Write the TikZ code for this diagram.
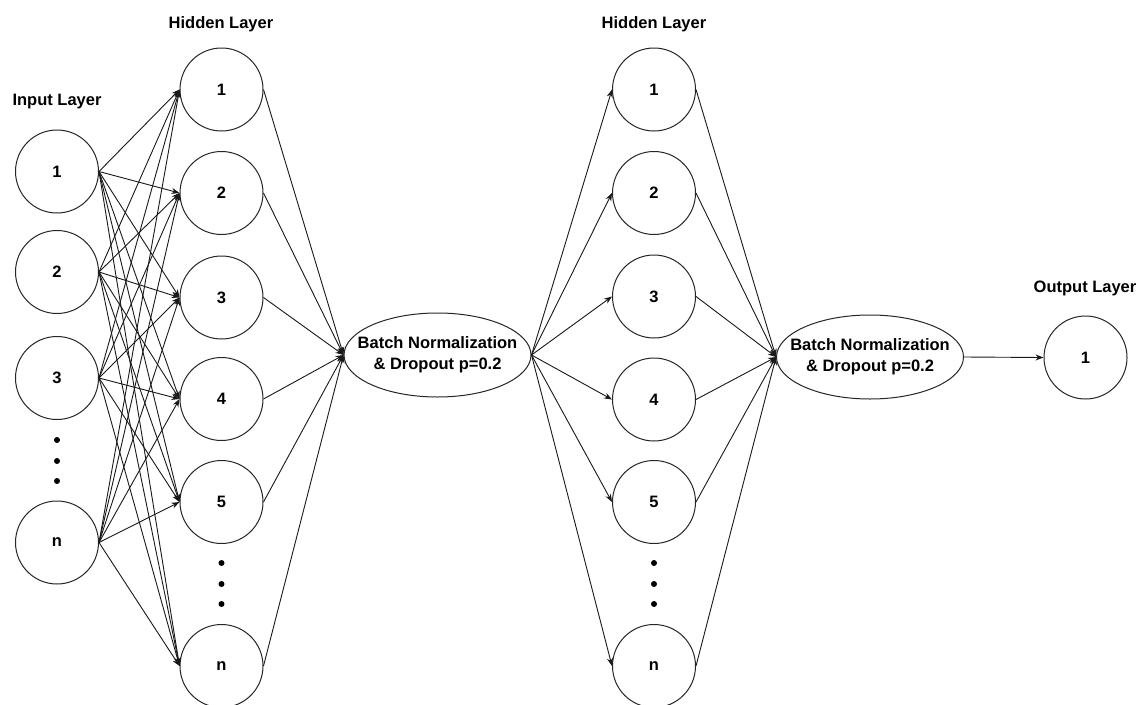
\documentclass[tikz,border=0pt]{standalone}
\usepackage{fontspec}
\setmainfont{Liberation Sans}
\usetikzlibrary{shapes.geometric,arrows.meta}
\begin{document}
\begin{tikzpicture}[x=1pt,y=-1pt,
  neuron/.style={circle,draw=black!85,line width=1pt,minimum size=83pt,inner sep=0pt,font=\fontsize{16.5}{19}\selectfont\bfseries},
  bnshape/.style={ellipse,draw=black!85,line width=1pt,minimum width=187pt,minimum height=84pt,inner sep=0pt},
  bntext/.style={align=center,inner sep=0pt,font=\fontsize{16.5}{21}\selectfont\bfseries},
  lbl/.style={inner sep=0pt,font=\fontsize{16.5}{19}\selectfont\bfseries},
  conn/.style={line width=0.9pt,draw=black!90,-{Stealth[length=8pt,width=6pt]}},
  dotn/.style={circle,fill=black,inner sep=0pt,minimum size=6pt}]
\useasboundingbox[fill=white] (0,0) rectangle (1145,704);

% labels
\node[lbl] (lin) at (57,102) {Input Layer};
\node[lbl] (lh1) at (221,24) {Hidden Layer};
\node[lbl] (lh2) at (654,24) {Hidden Layer};
\node[lbl] (lout) at (1085,288) {Output Layer};

% input layer
\node[neuron] (i1) at (57,171.5) {1};
\node[neuron] (i2) at (57,272) {2};
\node[neuron] (i3) at (57,378) {3};
\node[neuron] (i4) at (57,542.5) {n};
\node[dotn] (di1) at (57,440) {};
\node[dotn] (di2) at (57,461) {};
\node[dotn] (di3) at (57,481) {};

% hidden layer 1
\node[neuron] (a1) at (221.5,89.5) {1};
\node[neuron] (a2) at (221.5,193) {2};
\node[neuron] (a3) at (221.5,297.5) {3};
\node[neuron] (a4) at (221.5,399) {4};
\node[neuron] (a5) at (221.5,502) {5};
\node[neuron] (a6) at (221.5,666) {n};
\node[dotn] (da1) at (221.5,563) {};
\node[dotn] (da2) at (221.5,584) {};
\node[dotn] (da3) at (221.5,604) {};

% batch norm 1
\node[bnshape] (b1) at (437.5,355) {};
\node[bntext] (b1t) at (b1.center) {Batch Normalization\\\& Dropout p=0.2};

% hidden layer 2
\node[neuron] (c1) at (654,89.5) {1};
\node[neuron] (c2) at (654,193) {2};
\node[neuron] (c3) at (654,296.5) {3};
\node[neuron] (c4) at (654,399.5) {4};
\node[neuron] (c5) at (654,502) {5};
\node[neuron] (c6) at (654,666) {n};
\node[dotn] (dc1) at (654,563) {};
\node[dotn] (dc2) at (654,584) {};
\node[dotn] (dc3) at (654,604) {};

% batch norm 2
\node[bnshape] (b2) at (870,357) {};
\node[bntext] (b2t) at (b2.center) {Batch Normalization\\\& Dropout p=0.2};

% output
\node[neuron] (o1) at (1085.5,357.5) {1};

% connections
\foreach \i in {1,2,3,4}{
  \foreach \j in {1,...,6}{
    \draw[conn] (i\i.east) -- (a\j.west);
  }
}
\foreach \j in {1,...,6}{
  \draw[conn] (a\j.east) -- (b1.west);
  \draw[conn] (b1.east) -- (c\j.west);
  \draw[conn] (c\j.east) -- (b2.west);
}
\draw[conn] (b2.east) -- (o1.west);
\end{tikzpicture}
\end{document}
